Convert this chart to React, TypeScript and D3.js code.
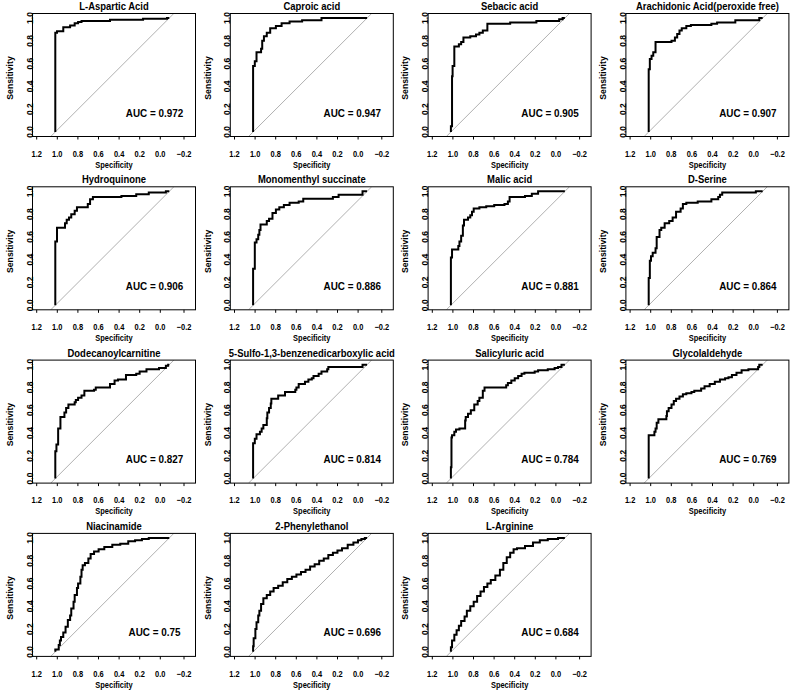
import React from 'react';
import * as d3 from 'd3';

// panel titles and AUC values, row by row
const titles = [
  'L-Aspartic Acid', 'Caproic acid', 'Sebacic acid', 'Arachidonic Acid(peroxide free)',
  'Hydroquinone', 'Monomenthyl succinate', 'Malic acid', 'D-Serine',
  'Dodecanoylcarnitine', '5-Sulfo-1,3-benzenedicarboxylic acid', 'Salicyluric acid', 'Glycolaldehyde',
  'Niacinamide', '2-Phenylethanol', 'L-Arginine',
];
const aucs = ['0.972', '0.947', '0.905', '0.907', '0.906', '0.886', '0.881', '0.864', '0.827', '0.814', '0.784', '0.769', '0.75', '0.696', '0.684'];

// ROC step points: [specificity, sensitivity] (sensitivity level held until that specificity)
const rocAspartic = [[1, 0], [0.985, 0.87], [0.93, 0.885], [0.87, 0.92], [0.83, 0.935], [0.8, 0.955], [0.77, 0.965], [0.52, 0.975], [0.23, 0.985], [0.02, 0.995], [0, 1]];
const rocCaproic = [[1, 0], [0.985, 0.58], [0.97, 0.62], [0.93, 0.7], [0.92, 0.73], [0.905, 0.8], [0.88, 0.84], [0.85, 0.87], [0.8, 0.91], [0.75, 0.93], [0.68, 0.955], [0.57, 0.97], [0.4, 0.98], [0, 1]];
const rocSebacic = [[1, 0], [0.99, 0.05], [0.985, 0.49], [0.97, 0.58], [0.93, 0.75], [0.91, 0.77], [0.89, 0.79], [0.83, 0.83], [0.78, 0.84], [0.75, 0.855], [0.72, 0.87], [0.68, 0.89], [0.48, 0.95], [0.25, 0.96], [0.05, 0.975], [0.02, 0.99], [0, 1]];
const rocArachidonic = [[1, 0], [0.99, 0.55], [0.975, 0.64], [0.96, 0.67], [0.94, 0.7], [0.8, 0.79], [0.77, 0.8], [0.75, 0.83], [0.73, 0.86], [0.71, 0.89], [0.67, 0.91], [0.63, 0.93], [0.45, 0.94], [0.4, 0.95], [0.24, 0.96], [0.03, 0.98], [0, 1]];
const rocHydroquinone = [[1, 0], [0.985, 0.56], [0.915, 0.68], [0.9, 0.72], [0.88, 0.75], [0.86, 0.77], [0.83, 0.8], [0.81, 0.83], [0.715, 0.86], [0.695, 0.89], [0.67, 0.93], [0.42, 0.95], [0.29, 0.96], [0.18, 0.975], [0.03, 0.99], [0, 1]];
const rocMonomenthyl = [[1, 0], [0.985, 0.32], [0.97, 0.55], [0.955, 0.58], [0.945, 0.62], [0.935, 0.66], [0.88, 0.71], [0.86, 0.74], [0.83, 0.76], [0.8, 0.81], [0.77, 0.84], [0.73, 0.86], [0.68, 0.88], [0.6, 0.9], [0.56, 0.91], [0.3, 0.935], [0.25, 0.95], [0.04, 0.97], [0, 1]];
const rocMalic = [[1, 0], [0.99, 0.42], [0.935, 0.49], [0.925, 0.52], [0.91, 0.56], [0.895, 0.61], [0.885, 0.7], [0.85, 0.75], [0.83, 0.77], [0.815, 0.79], [0.8, 0.82], [0.75, 0.85], [0.69, 0.86], [0.62, 0.87], [0.53, 0.88], [0.5, 0.89], [0.485, 0.91], [0.35, 0.95], [0.29, 0.96], [0.235, 0.98], [0, 1]];
const rocSerine = [[1, 0], [0.99, 0.24], [0.98, 0.39], [0.965, 0.43], [0.94, 0.46], [0.93, 0.5], [0.905, 0.6], [0.89, 0.66], [0.86, 0.68], [0.82, 0.72], [0.79, 0.74], [0.76, 0.77], [0.72, 0.82], [0.7, 0.85], [0.67, 0.89], [0.57, 0.9], [0.45, 0.91], [0.39, 0.93], [0.375, 0.95], [0.355, 0.97], [0.06, 0.99], [0, 1]];
const rocDodecanoyl = [[1, 0], [0.99, 0.24], [0.975, 0.3], [0.955, 0.44], [0.92, 0.54], [0.905, 0.58], [0.885, 0.62], [0.83, 0.65], [0.82, 0.67], [0.8, 0.69], [0.77, 0.71], [0.745, 0.73], [0.66, 0.77], [0.645, 0.78], [0.52, 0.8], [0.48, 0.83], [0.45, 0.86], [0.38, 0.87], [0.29, 0.91], [0.26, 0.92], [0.2, 0.94], [0.09, 0.96], [0.03, 0.97], [0.01, 0.99], [0, 1]];
const rocSulfo = [[1, 0], [0.985, 0.31], [0.97, 0.35], [0.94, 0.39], [0.925, 0.41], [0.91, 0.44], [0.88, 0.47], [0.875, 0.53], [0.86, 0.58], [0.845, 0.62], [0.84, 0.66], [0.78, 0.7], [0.72, 0.73], [0.63, 0.76], [0.62, 0.78], [0.6, 0.8], [0.545, 0.83], [0.515, 0.85], [0.485, 0.87], [0.47, 0.88], [0.425, 0.9], [0.4, 0.92], [0.35, 0.94], [0.34, 0.96], [0.04, 0.98], [0, 1]];
const rocSalicyluric = [[1, 0], [0.995, 0.1], [0.99, 0.36], [0.97, 0.38], [0.955, 0.41], [0.925, 0.43], [0.875, 0.44], [0.87, 0.51], [0.85, 0.54], [0.825, 0.57], [0.795, 0.6], [0.765, 0.65], [0.75, 0.68], [0.72, 0.71], [0.705, 0.77], [0.515, 0.8], [0.5, 0.82], [0.47, 0.84], [0.44, 0.86], [0.41, 0.88], [0.38, 0.9], [0.355, 0.92], [0.265, 0.93], [0.235, 0.94], [0.15, 0.95], [0.09, 0.96], [0.06, 0.97], [0.03, 0.98], [0, 1]];
const rocGlycolaldehyde = [[1, 0], [0.95, 0.38], [0.94, 0.41], [0.93, 0.44], [0.915, 0.49], [0.845, 0.52], [0.84, 0.55], [0.825, 0.59], [0.8, 0.62], [0.78, 0.65], [0.76, 0.68], [0.73, 0.7], [0.7, 0.72], [0.67, 0.74], [0.625, 0.75], [0.6, 0.76], [0.54, 0.77], [0.51, 0.79], [0.465, 0.81], [0.42, 0.83], [0.375, 0.85], [0.33, 0.87], [0.3, 0.88], [0.27, 0.89], [0.23, 0.91], [0.185, 0.93], [0.125, 0.95], [0.04, 0.96], [0.03, 0.98], [0, 1]];
const rocNiacinamide = [[1, 0], [0.97, 0.02], [0.96, 0.06], [0.95, 0.1], [0.93, 0.13], [0.91, 0.17], [0.89, 0.22], [0.87, 0.28], [0.86, 0.32], [0.84, 0.38], [0.83, 0.44], [0.81, 0.5], [0.8, 0.56], [0.78, 0.6], [0.77, 0.66], [0.76, 0.72], [0.74, 0.76], [0.71, 0.78], [0.69, 0.82], [0.66, 0.86], [0.62, 0.88], [0.57, 0.9], [0.5, 0.92], [0.43, 0.94], [0.36, 0.95], [0.3, 0.97], [0.24, 0.98], [0.18, 0.99], [0, 1]];
const rocPhenylethanol = [[1, 0], [0.995, 0.05], [0.98, 0.12], [0.97, 0.2], [0.955, 0.26], [0.945, 0.32], [0.93, 0.36], [0.91, 0.42], [0.88, 0.47], [0.85, 0.5], [0.82, 0.53], [0.78, 0.56], [0.74, 0.58], [0.7, 0.61], [0.66, 0.64], [0.62, 0.66], [0.58, 0.68], [0.54, 0.7], [0.5, 0.72], [0.46, 0.75], [0.42, 0.77], [0.38, 0.8], [0.34, 0.82], [0.3, 0.85], [0.26, 0.87], [0.22, 0.89], [0.17, 0.91], [0.12, 0.94], [0.08, 0.96], [0.05, 0.98], [0.02, 0.99], [0, 1]];
const rocArginine = [[1, 0], [0.99, 0.04], [0.97, 0.1], [0.95, 0.15], [0.93, 0.19], [0.91, 0.23], [0.88, 0.27], [0.86, 0.31], [0.83, 0.36], [0.8, 0.4], [0.77, 0.44], [0.74, 0.49], [0.71, 0.53], [0.68, 0.57], [0.65, 0.6], [0.61, 0.63], [0.57, 0.67], [0.54, 0.72], [0.51, 0.78], [0.48, 0.83], [0.45, 0.87], [0.42, 0.9], [0.35, 0.91], [0.28, 0.93], [0.22, 0.96], [0.15, 0.98], [0.06, 0.99], [0, 1]];

const curves = [
  rocAspartic, rocCaproic, rocSebacic, rocArachidonic,
  rocHydroquinone, rocMonomenthyl, rocMalic, rocSerine,
  rocDodecanoyl, rocSulfo, rocSalicyluric, rocGlycolaldehyde,
  rocNiacinamide, rocPhenylethanol, rocArginine,
];

const specTicks = [1.2, 1.0, 0.8, 0.6, 0.4, 0.2, 0.0, -0.2];
const sensTicks = [0, 0.2, 0.4, 0.6, 0.8, 1.0];

const W = 795;
const H = 694;
const colStep = 197.8;
const rowStep = 173.3;
const font = "'Liberation Sans', Arial, Helvetica, sans-serif";
const squash = 0.86; // the figure's lettering is narrow

// scales shared by every panel (panel-relative pixels)
const x = d3.scaleLinear().domain([1.2, -0.23]).range([32.5, 195.5]);
const y = d3.scaleLinear().domain([-0.04, 1.04]).range([136.5, 13.5]);
// tick labels on the x axis sit a little tighter than the data
const xLab = d3.scaleLinear().domain([1.2, 0, -0.2]).range([36.7, 160.3, 184]);

const line = d3.line<number[]>()
  .x(d => x(d[0]))
  .y(d => y(d[1]))
  .curve(d3.curveStepBefore);

function Txt({ x: tx, y: ty, size, children }: { x: number; y: number; size: number; children: React.ReactNode }) {
  return (
    <text transform={`translate(${tx},${ty}) scale(${squash},1)`} textAnchor="middle" fontSize={size}>
      {children}
    </text>
  );
}

function Panel({ i }: { i: number }) {
  const col = i % 4;
  const row = Math.floor(i / 4);
  const [x0, x1] = x.range();
  const [yb, yt] = y.range();
  const cx = (x0 + x1) / 2;
  return (
    <g transform={`translate(${col * colStep},${row * rowStep})`} fontFamily={font} fontWeight="bold">
      <defs>
        <clipPath id={`clip${i}`}>
          <rect x={x0} y={yt} width={x1 - x0} height={yb - yt} />
        </clipPath>
      </defs>
      <line
        x1={x(1.04)} y1={y(-0.04)} x2={x(-0.04)} y2={y(1.04)}
        stroke="#b0b0b0" strokeWidth={1} clipPath={`url(#clip${i})`}
      />
      <path d={line(curves[i] as number[][]) || ''} fill="none" stroke="#000" strokeWidth={2} />
      <rect x={x0} y={yt} width={x1 - x0} height={yb - yt} fill="none" stroke="#000" strokeWidth={1} />
      {specTicks.map(t => (
        <g key={t}>
          <line x1={xLab(t)} x2={xLab(t)} y1={yb} y2={yb + 3} stroke="#000" />
          <Txt x={xLab(t)} y={156.7} size={8.7}>
            {t < 0 ? '\u2212' + Math.abs(t).toFixed(1) : t.toFixed(1)}
          </Txt>
        </g>
      ))}
      {sensTicks.map(t => (
        <text key={t} transform={`translate(32.5,${y(t)}) rotate(-90)`} textAnchor="middle" fontSize={8.5}>
          {t.toFixed(1)}
        </text>
      ))}
      <Txt x={cx} y={167.8} size={8.7}>Specificity</Txt>
      <text transform={`translate(12.8,${(yb + yt) / 2 + 3}) rotate(-90)`} textAnchor="middle" fontSize={8.7}>Sensitivity</text>
      <Txt x={cx} y={10} size={11}>{titles[i]}</Txt>
      <Txt x={x(0.13)} y={y(0.135)} size={11.5}>AUC = {aucs[i]}</Txt>
    </g>
  );
}

export default function App() {
  return (
    <div style={{ position: 'absolute', left: 0, top: 0 }}>
      <svg width={W} height={H} style={{ display: 'block', background: '#fff' }}>
        <rect width={W} height={H} fill="#fff" />
        {titles.map((_, i) => <Panel key={i} i={i} />)}
      </svg>
    </div>
  );
}
